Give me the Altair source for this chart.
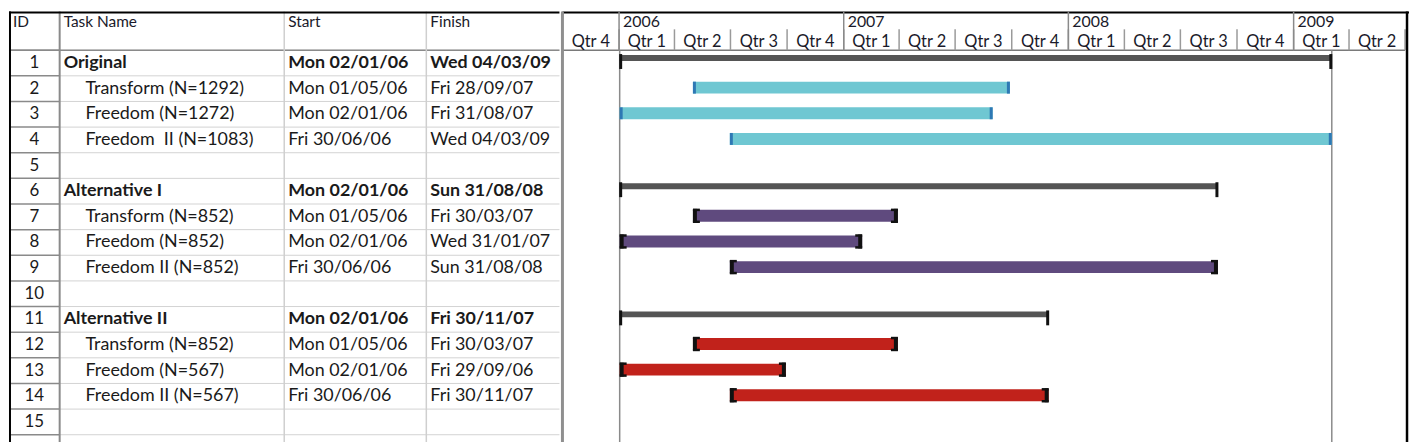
import altair as alt
import pandas as pd
from datetime import datetime

# ---------------- data ----------------
ids = list(range(1, 16))
names = ["Original", "Transform (N=1292)", "Freedom (N=1272)", "Freedom\u00a0 II (N=1083)", "",
         "Alternative I", "Transform (N=852)", "Freedom (N=852)", "Freedom II (N=852)", "",
         "Alternative II", "Transform (N=852)", "Freedom (N=567)", "Freedom II (N=567)", ""]
start_labels = ["Mon 02/01/06", "Mon 01/05/06", "Mon 02/01/06", "Fri 30/06/06", "",
                "Mon 02/01/06", "Mon 01/05/06", "Mon 02/01/06", "Fri 30/06/06", "",
                "Mon 02/01/06", "Mon 01/05/06", "Mon 02/01/06", "Fri 30/06/06", ""]
finish_labels = ["Wed 04/03/09", "Fri 28/09/07", "Fri 31/08/07", "Wed 04/03/09", "",
                 "Sun 31/08/08", "Fri 30/03/07", "Wed 31/01/07", "Sun 31/08/08", "",
                 "Fri 30/11/07", "Fri 30/03/07", "Fri 29/09/06", "Fri 30/11/07", ""]
groups = ["Original"] * 5 + ["Alternative I"] * 5 + ["Alternative II"] * 5
summary_ids = [1, 6, 11]

header_labels = ["ID", "Task Name", "Start", "Finish"]
year_labels = ["2006", "2007", "2008", "2009"]
year_starts = ["2006-01-01", "2007-01-01", "2008-01-01", "2009-01-01"]
quarter_labels = ["Qtr 4", "Qtr 1", "Qtr 2", "Qtr 3", "Qtr 4", "Qtr 1", "Qtr 2", "Qtr 3",
                  "Qtr 4", "Qtr 1", "Qtr 2", "Qtr 3", "Qtr 4", "Qtr 1", "Qtr 2"]
quarter_bounds = ["2005-10-01", "2006-01-01", "2006-04-01", "2006-07-01", "2006-10-01",
                  "2007-01-01", "2007-04-01", "2007-07-01", "2007-10-01", "2008-01-01",
                  "2008-04-01", "2008-07-01", "2008-10-01", "2009-01-01", "2009-04-01",
                  "2009-07-01"]
project_lines = ["2006-01-02", "2009-03-04"]

group_names = ["Original", "Alternative I", "Alternative II"]
group_colors = ["#6FC7D2", "#5F4A7E", "#C1221B"]
ORIG_CAP = "#2E78B4"
ALT_CAP = "#111111"

# ---------------- tables ----------------
def to_iso(lbl):
    return datetime.strptime(lbl[4:], "%d/%m/%y").strftime("%Y-%m-%d") if lbl else None

df = pd.DataFrame({
    "id": ids, "name": names, "start_label": start_labels, "finish_label": finish_labels,
    "group": groups,
})
df["summary"] = df["id"].isin(summary_ids)
df["blank"] = df["name"] == ""
df["start"] = [to_iso(s) for s in start_labels]
df["finish"] = [to_iso(s) for s in finish_labels]

bounds = pd.DataFrame({"b": [0.5] + [i + 0.5 for i in ids] + [ids[-1] + 1.5]})
qb = pd.to_datetime(pd.Series(quarter_bounds))
quarters = pd.DataFrame({
    "mid": (qb[:-1].values + (qb[1:].values - qb[:-1].values) / 2),
    "label": quarter_labels,
})
quarters["mid"] = pd.to_datetime(quarters["mid"]).dt.strftime("%Y-%m-%dT%H:%M:%S")
qsep = pd.DataFrame({"d": quarter_bounds[1:]})
years = pd.DataFrame({"d": year_starts, "label": year_labels})
plines = pd.DataFrame({"d": project_lines})

# ---------------- layout ----------------
FONT = "Lato"
H = 434
HEAD = 39
ROW = 25.8
TW = 554
GW = 848
col_x = [0, 51, 277, 420]       # column left edges in table
Y_TOP = 0.5 - HEAD / ROW
Y_BOT = (H - HEAD) / ROW + 0.5
yscale = alt.Scale(domain=[Y_TOP, Y_BOT], reverse=True, nice=False, zero=False)
YEAR_BASE = 16
QTR_BASE = 36
QSEP_TOP = 18


def ms(s):
    return int(pd.Timestamp(s).value // 10**6)


xscale = alt.Scale(type="utc", domain=[ms(quarter_bounds[0]), ms(quarter_bounds[-1])], nice=False)
Yrow = alt.Y("id:Q", scale=yscale, axis=None)
YB = alt.Y("b:Q", scale=yscale, axis=None)

base = alt.Chart(df)
one = alt.Chart(bounds).transform_filter("datum.b < 1")

# ----- table -----
layers = []
layers.append(alt.Chart(bounds).mark_rule(color="#d3d3d3", strokeWidth=1).encode(
    x=alt.value(col_x[1]), x2=alt.value(TW), y=YB))
layers.append(alt.Chart(bounds).mark_rule(color="#8a8a8a", strokeWidth=1.5).encode(
    x=alt.value(0), x2=alt.value(col_x[1]), y=YB))
layers.append(one.mark_rule(color="#8a8a8a", strokeWidth=1.5).encode(
    x=alt.value(0), x2=alt.value(TW), y=YB))
for cx, colr, w in [(col_x[2], "#cfcfcf", 1.5), (col_x[3], "#cfcfcf", 1.5), (col_x[1], "#8a8a8a", 2)]:
    layers.append(one.mark_rule(color=colr, strokeWidth=w).encode(
        x=alt.value(cx), y=alt.value(0), y2=alt.value(H)))
layers.append(one.mark_rule(color="#000", strokeWidth=2).encode(
    x=alt.value(0), x2=alt.value(TW), y=alt.value(1)))
layers.append(one.mark_rule(color="#000", strokeWidth=2).encode(
    x=alt.value(1), y=alt.value(0), y2=alt.value(H)))
for lbl, cx in zip(header_labels, col_x):
    layers.append(one.mark_text(align="left", baseline="alphabetic", font=FONT, fontSize=15.5,
                                color="#1a1a2a").encode(
        x=alt.value(cx + 4), y=alt.value(YEAR_BASE), text=alt.value(lbl)))
layers.append(base.mark_text(align="center", baseline="middle", font=FONT, fontSize=17,
                             color="#1a1a1a").encode(
    x=alt.value((col_x[0] + col_x[1]) / 2), y=Yrow, text="id:N"))
for is_sum, weight, indent in [(True, "bold", 4), (False, "normal", 26)]:
    sub = base.transform_filter(f"datum.summary == {str(is_sum).lower()}")
    for fld, cx in [("name", col_x[1] + indent), ("start_label", col_x[2] + 4),
                    ("finish_label", col_x[3] + 4)]:
        layers.append(sub.mark_text(align="left", baseline="middle", font=FONT, fontSize=18,
                                    fontWeight=weight, color="#1a1a1a").encode(
            x=alt.value(cx), y=Yrow, text=f"{fld}:N"))

table = alt.layer(*layers).properties(width=TW, height=H)

# ----- gantt -----
def X(f):
    return alt.X(f, type="temporal", scale=xscale, axis=None)


g = []
g.append(one.mark_rule(color="#7a7a7a", strokeWidth=1.5).encode(
    x=alt.value(0), x2=alt.value(GW), y=alt.value(HEAD)))
g.append(one.mark_rule(color="#000", strokeWidth=2).encode(
    x=alt.value(0), x2=alt.value(GW + 4), y=alt.value(1)))
g.append(alt.Chart(qsep).mark_rule(color="#9a9a9a", strokeWidth=1.5).encode(
    x=X("d"), y=alt.value(QSEP_TOP), y2=alt.value(HEAD)))
g.append(alt.Chart(years).mark_rule(color="#8a8a8a", strokeWidth=1.5).encode(
    x=X("d"), y=alt.value(0), y2=alt.value(HEAD)))
g.append(alt.Chart(years).mark_text(align="left", baseline="alphabetic", dx=4, font=FONT,
                                    fontSize=16, color="#1a1a2a").encode(
    x=X("d"), y=alt.value(YEAR_BASE), text="label:N"))
g.append(alt.Chart(quarters).mark_text(align="center", baseline="alphabetic", font=FONT,
                                       fontSize=16.5, color="#1a1a2a").encode(
    x=X("mid"), y=alt.value(QTR_BASE), text="label:N"))
g.append(alt.Chart(plines).mark_rule(color="#8a8a8a", strokeWidth=1.5).encode(
    x=X("d"), y=alt.value(HEAD), y2=alt.value(H)))
g.append(one.mark_rule(color="#8f8f8f", strokeWidth=3).encode(
    x=alt.value(0), y=alt.value(0), y2=alt.value(H)))
g.append(one.mark_rule(color="#000", strokeWidth=2.5).encode(
    x=alt.value(GW + 2), y=alt.value(0), y2=alt.value(H)))

# summary bars
summ = base.transform_filter("datum.summary")
g.append(summ.mark_rule(color="#555555", strokeWidth=6, strokeCap="butt", yOffset=-5).encode(
    x=X("start"), x2=alt.X2("finish"), y=Yrow))
for fld, xo in [("start", 1), ("finish", -1)]:
    g.append(summ.mark_rule(color="#111", strokeWidth=3, yOffset=-9, y2Offset=6, xOffset=xo).encode(
        x=X(fld), y=Yrow, y2=alt.Y2("id:Q")))

# task bars
tasks = base.transform_filter("!datum.summary && !datum.blank")
color = alt.Color("group:N", scale=alt.Scale(domain=group_names, range=group_colors), legend=None)
g.append(tasks.mark_rule(strokeWidth=12, strokeCap="butt", yOffset=-1).encode(
    x=X("start"), x2=alt.X2("finish"), y=Yrow, color=color))

orig = tasks.transform_filter("datum.group == 'Original'")
for fld, xo in [("start", 1.5), ("finish", -1.5)]:
    g.append(orig.mark_rule(color=ORIG_CAP, strokeWidth=3, yOffset=-7, y2Offset=5, xOffset=xo).encode(
        x=X(fld), y=Yrow, y2=alt.Y2("id:Q")))

alts = tasks.transform_filter("datum.group != 'Original'")
for fld, xo in [("start", 2), ("finish", -2)]:
    g.append(alts.mark_rule(color=ALT_CAP, strokeWidth=4, yOffset=-8, y2Offset=6, xOffset=xo).encode(
        x=X(fld), y=Yrow, y2=alt.Y2("id:Q")))
for yo in (-7, 5):
    g.append(alts.mark_rule(color=ALT_CAP, strokeWidth=2.5, xOffset=0, x2Offset=7, yOffset=yo).encode(
        x=X("start"), x2=alt.X2("start"), y=Yrow))
    g.append(alts.mark_rule(color=ALT_CAP, strokeWidth=2.5, xOffset=-7, x2Offset=0, yOffset=yo).encode(
        x=X("finish"), x2=alt.X2("finish"), y=Yrow))

gantt = alt.layer(*g).properties(width=GW, height=H)

chart = alt.hconcat(table, gantt, spacing=0).properties(padding=0).configure_view(
    strokeWidth=0).configure_concat(spacing=0)

chart.save("out.html", embed_options={"renderer": "svg", "actions": False})
